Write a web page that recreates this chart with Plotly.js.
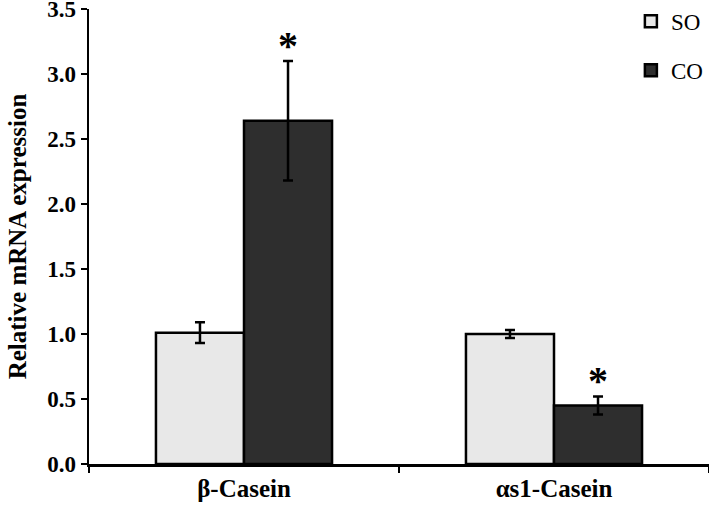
<!DOCTYPE html>
<html>
<head>
<meta charset="utf-8">
<script src="https://cdn.plot.ly/plotly-3.0.1.min.js"></script>
<style>html,body{margin:0;padding:0;background:#fff;}#chart{width:709px;height:510px;}</style>
</head>
<body>
<div id="chart"></div>
<script>
const categories = ["β-Casein", "αs1-Casein"];
const soValues = [1.01, 1.00];
const soErrors = [0.08, 0.03];
const coValues = [2.64, 0.45];
const coErrors = [0.46, 0.07];
const starY = [3.22, 0.64];
const yTicks = [0, 0.5, 1.0, 1.5, 2.0, 2.5, 3.0, 3.5];

const serif = "'Liberation Serif', 'Times New Roman', serif";

const traces = [
  {
    type: "bar", name: "SO", x: categories, y: soValues, legendgroup: "so",
    marker: {color: "#e8e8e8", line: {color: "#000", width: 2.5}},
    error_y: {type: "data", array: soErrors, visible: true, color: "#000", thickness: 2.5, width: 5}
  },
  {
    type: "bar", name: "CO", x: categories, y: coValues, legendgroup: "co",
    marker: {color: "#2e2e2e", line: {color: "#000", width: 2.5}},
    error_y: {type: "data", array: coErrors, visible: true, color: "#000", thickness: 2.5, width: 5}
  }
];

const annotations = categories.map((c, i) => ({
  x: c, y: starY[i], xref: "x", yref: "y", text: "<b>*</b>", showarrow: false,
  xshift: 44, font: {family: serif, size: 40, color: "#000"}
}));

const layout = {
  width: 709, height: 510,
  margin: {l: 89, r: 0, t: 9, b: 46, autoexpand: false},
  paper_bgcolor: "#fff", plot_bgcolor: "#fff",
  barmode: "group", bargap: 0.432, bargroupgap: 0,
  font: {family: serif, color: "#000"},
  showlegend: true,
  legend: {x: 0.874, y: 1.02, xanchor: "left", yanchor: "top", tracegroupgap: 16,
    font: {family: serif, size: 23, color: "#000"}, bgcolor: "rgba(0,0,0,0)"},
  xaxis: {
    type: "category", showline: true, linecolor: "#000", linewidth: 2.5,
    ticks: "outside", tickson: "boundaries", ticklen: 6, tickwidth: 2.5, tickcolor: "#000",
    tickfont: {family: serif, size: 25, color: "#000", weight: "bold"},
    showgrid: false, zeroline: false, range: [-0.5, 1.5], fixedrange: true
  },
  yaxis: {
    range: [0, 3.5], tickvals: yTicks, ticktext: yTicks.map(v => v.toFixed(1)),
    showline: true, linecolor: "#000", linewidth: 2.5,
    ticks: "outside", ticklen: 6, tickwidth: 2.5, tickcolor: "#000",
    tickfont: {family: serif, size: 23, color: "#000", weight: "bold"},
    ticklabeloverflow: "allow",
    showgrid: false, zeroline: false,
    title: {text: "<b>Relative mRNA expression</b>", font: {family: serif, size: 25, color: "#000"}, standoff: 14}
  },
  annotations: annotations
};

Plotly.newPlot("chart", traces, layout, {displayModeBar: false, staticPlot: true});
</script>
</body>
</html>
